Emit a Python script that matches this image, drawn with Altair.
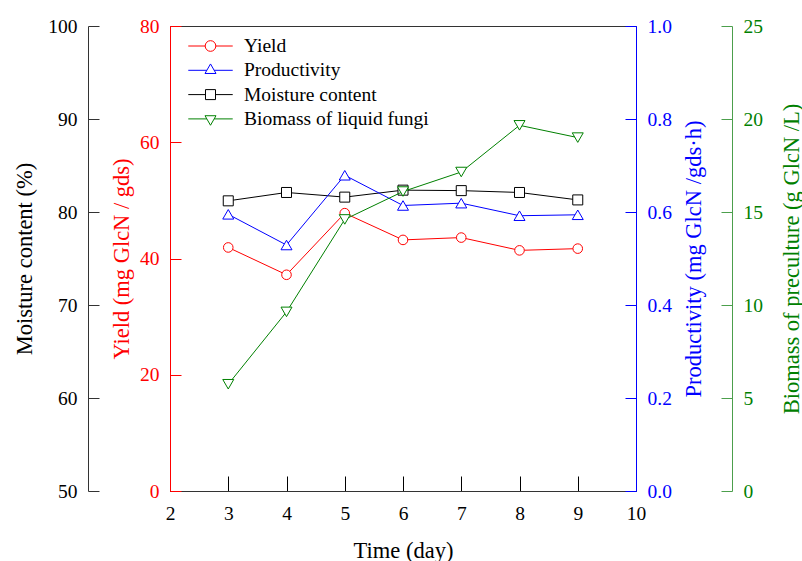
import altair as alt
import pandas as pd

# ---- data ----
days = [3, 4, 5, 6, 7, 8, 9]
yield_vals = [41.9, 37.2, 47.8, 43.2, 43.6, 41.4, 41.7]
productivity = [0.595, 0.529, 0.679, 0.614, 0.619, 0.592, 0.594]
moisture = [81.2, 82.1, 81.6, 82.35, 82.3, 82.1, 81.3]
biomass = [5.74, 9.63, 14.6, 16.1, 17.15, 19.66, 19.0]

series_names = ["Yield", "Productivity", "Moisture content", "Biomass of liquid fungi"]
series_colors = ["#ff0000", "#0000ff", "#000000", "#008000"]

x_ticks = [2, 3, 4, 5, 6, 7, 8, 9, 10]
moisture_ticks = [50, 60, 70, 80, 90, 100]
yield_ticks = [0, 20, 40, 60, 80]
prod_ticks = [0.0, 0.2, 0.4, 0.6, 0.8, 1.0]
biomass_ticks = [0, 5, 10, 15, 20, 25]

df = pd.DataFrame({
    "day": days,
    "yield": yield_vals,
    "productivity": productivity,
    "moisture": moisture,
    "biomass": biomass,
})

W, H = 466, 465
FONT = "Liberation Serif"
TICK_FS = 19.5
TITLE_FS = 22.5

x_enc = alt.X(
    "day:Q",
    scale=alt.Scale(domain=[2, 10], nice=False),
    axis=alt.Axis(
        values=x_ticks, title="Time (day)", grid=False,
        tickSize={"expr": "-15"}, labelPadding=28, tickColor="#000", domainColor="#333",
        labelFont=FONT, labelFontSize=TICK_FS, labelColor="#000", labelFlush=False,
        titleFont=FONT, titleFontSize=TITLE_FS, titleFontWeight="normal", titleColor="#000",
        titleX=W / 2, titleY=66, titleBaseline="alphabetic", titleAlign="center",
    ),
)


def yaxis(ticks, title, color, orient, offset, title_x, domain_color=None, fmt=None):
    kw = dict(
        values=ticks, title=title, orient=orient, offset=offset, grid=False,
        tickSize={"expr": "-11"}, labelPadding=22,
        domainColor=domain_color or color, tickColor=domain_color or color,
        labelColor=color, labelFont=FONT, labelFontSize=TICK_FS, labelFlush=False,
        titleColor=color, titleFont=FONT, titleFontSize=TITLE_FS, titleFontWeight="normal",
        titleAngle=270, titleX=title_x, titleY=H / 2, titleAlign="center",
        titleBaseline="alphabetic", titleLimit=0,
    )
    if fmt:
        kw["format"] = fmt
    return alt.Axis(**kw)


def series(field, domain, color, shape, size, axis):
    return alt.Chart(df).mark_line(
        color=color, strokeWidth=1,
        point=alt.OverlayMarkDef(shape=shape, filled=True, fill="white", stroke=color,
                                 strokeWidth=1, size=size, opacity=1),
    ).encode(
        x=x_enc,
        y=alt.Y(f"{field}:Q", scale=alt.Scale(domain=domain, nice=False), axis=axis),
    )


moist_layer = series("moisture", [50, 100], "#000000", "square", 100,
                     yaxis(moisture_ticks, "Moisture content (%)", "#000000", "left", 82, -57, "#333"))
yield_layer = series("yield", [0, 80], "#ff0000", "circle", 92,
                     yaxis(yield_ticks, "Yield (mg GlcN / gds)", "#ff0000", "left", 0, -42))
prod_layer = series("productivity", [0, 1], "#0000ff", "triangle-up", 121,
                    yaxis(prod_ticks, "Productivity (mg GlcN /gds\u00b7h)", "#0000ff", "right", 0, 64.5,
                          fmt=".1f"))
bio_layer = series("biomass", [0, 25], "#008000", "triangle-down", 121,
                   yaxis(biomass_ticks, "Biomass of preculture (g GlcN /L)", "#008000", "right", 96, 66,
                         "#4c9f4c"))

# legend symbols: line segment + marker outline (unit coords, scaled by sqrt(size)/2)
legend_paths = [
    "M-4.04,0H-0.97M0.97,0H4.04M-0.97,0A0.97,0.97,0,1,1,0.97,0A0.97,0.97,0,1,1,-0.97,0Z",
    "M-4.04,0H-0.667M0.667,0H4.04M0,-1.155L-1,0.577L1,0.577Z",
    "M-4.04,0H-0.91M0.91,0H4.04M-0.91,-0.91H0.91V0.91H-0.91Z",
    "M-4.04,0H-0.667M0.667,0H4.04M0,1.155L-1,-0.577L1,-0.577Z",
]

legend_df = pd.DataFrame({"series": series_names})
leg = alt.Legend(
    title=None, orient="none", legendX=0, legendY=10.25, padding=0,
    symbolSize=121, symbolStrokeWidth=1, symbolOffset=30.75, labelOffset=23.75,
    symbolOpacity=1, labelLimit=0,
    labelFont=FONT, labelFontSize=TICK_FS, labelColor="#000", rowPadding=3.3,
)
legend_layer = alt.Chart(legend_df).transform_filter("false").mark_point(
    filled=False, strokeWidth=1, opacity=1
).encode(
    color=alt.Color("series:N", scale=alt.Scale(domain=series_names, range=series_colors), legend=leg),
    shape=alt.Shape("series:N", scale=alt.Scale(domain=series_names, range=legend_paths), legend=leg),
)

chart = alt.layer(
    moist_layer, yield_layer, prod_layer, bio_layer, legend_layer
).resolve_scale(
    y="independent"
).properties(
    width=W, height=H,
    autosize=alt.AutoSizeParams(type="none"),
    padding={"left": 170, "top": 26, "right": 166, "bottom": 70},
    background="white",
).configure_view(
    stroke="#333", strokeWidth=1
)

chart.save("out.html", embed_options={"renderer": "svg", "actions": False})
